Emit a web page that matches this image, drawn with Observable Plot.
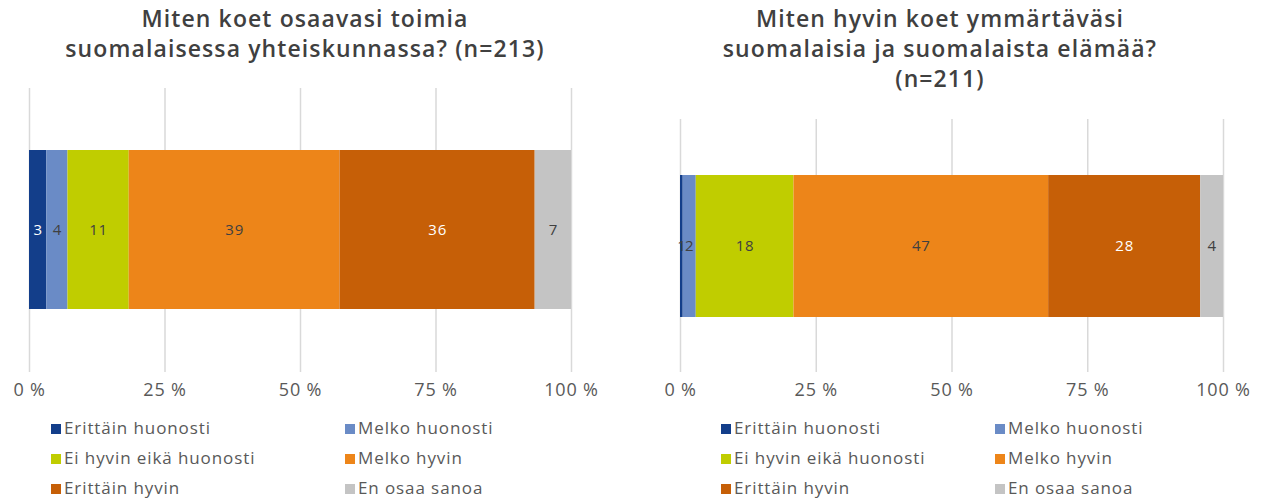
<!DOCTYPE html>
<html><head><meta charset="utf-8">
<script src="https://cdn.jsdelivr.net/npm/d3@7"></script>
<script src="https://cdn.jsdelivr.net/npm/@observablehq/plot@0.6"></script>
<style>
body{margin:0;background:#fff;font-family:"Open Sans",sans-serif;}
#wrap{position:relative;width:1265px;height:499px;overflow:hidden;background:#fff;}
.title{position:absolute;text-align:center;font-size:23px;font-weight:600;letter-spacing:1.1px;color:#404040;}
.title div{height:30px;line-height:30px;white-space:nowrap;}
.chart{position:absolute;}
.item{position:absolute;white-space:nowrap;line-height:20px;font-size:17px;letter-spacing:0.9px;color:#595959;}
.sw{display:inline-block;width:10px;height:10px;margin-right:3px;vertical-align:0px;}
</style>
</head><body>
<div id="wrap"></div>
<script>
const categories = ["Erittäin huonosti","Melko huonosti","Ei hyvin eikä huonosti","Melko hyvin","Erittäin hyvin","En osaa sanoa"];
const colors = ["#133e8a","#6a8bc6","#c0cd00","#ed8519","#c65f07","#c4c4c4"];
const valuesLeft = [3.2, 3.9, 11.3, 38.9, 36.0, 6.7];
const valuesRight = [0.5, 2.4, 18.0, 46.9, 28.0, 4.2];
const titleLeft = ["Miten koet osaavasi toimia", "suomalaisessa yhteiskunnassa? (n=213)"];
const titleRight = ["Miten hyvin koet ymmärtäväsi", "suomalaisia ja suomalaista elämää?", "(n=211)"];
const ticks = [0, 25, 50, 75, 100];

const wrap = document.getElementById("wrap");

function chart(values, o) {
  const data = categories.map((c, i) => ({cat: c, value: values[i], q: "q"}));
  const plot = Plot.plot({
    width: 600, height: o.height,
    marginLeft: 29, marginRight: o.mr, marginTop: 0, marginBottom: 30,
    x: {domain: [0, 100], ticks, tickFormat: d => d + " %", tickSize: 0, tickPadding: 11, label: null},
    y: {axis: null, padding: 0.28},
    color: {domain: categories, range: colors},
    style: {fontFamily: "'Open Sans', sans-serif", fontSize: "18px", letterSpacing: "0.8px", color: "#595959", background: "transparent", overflow: "visible"},
    marks: [
      Plot.ruleX(ticks, {stroke: "#d9d9d9", strokeWidth: 1.5}),
      Plot.barX(data, Plot.stackX({x: "value", y: "q", fill: "cat"})),
      Plot.text(data, Plot.stackX({x: "value", y: "q", z: "cat",
        text: d => String(Math.round(d.value)),
        fontSize: 15,
        fill: d => (d.cat === "Erittäin hyvin" || (d.cat === "Erittäin huonosti" && d.value >= 1)) ? "white" : "#404040"}))
    ]
  });
  const div = document.createElement("div");
  div.className = "chart";
  div.style.left = o.left + "px";
  div.style.top = o.top + "px";
  div.appendChild(plot);
  wrap.appendChild(div);
}

function title(lines, left, width) {
  const d = document.createElement("div");
  d.className = "title";
  d.style.left = left + "px"; d.style.width = width + "px"; d.style.top = "3px";
  lines.forEach(t => {
    const l = document.createElement("div");
    l.textContent = t;
    d.appendChild(l);
  });
  wrap.appendChild(d);
}

function legend(x1, x2) {
  const xs = [x1, x2], tops = [418, 448, 478];
  categories.forEach((c, i) => {
    const it = document.createElement("div");
    it.className = "item";
    it.style.left = xs[i % 2] + "px";
    it.style.top = tops[Math.floor(i / 2)] + "px";
    it.innerHTML = `<span class="sw" style="background:${colors[i]}"></span>${c}`;
    wrap.appendChild(it);
  });
}

title(titleLeft, 0, 610);
title(titleRight, 640, 600);
chart(valuesLeft, {left: 0, top: 88, height: 314, mr: 29});
chart(valuesRight, {left: 651, top: 119, height: 283, mr: 28});
legend(51, 345);
legend(721, 995);
</script>
</body></html>
